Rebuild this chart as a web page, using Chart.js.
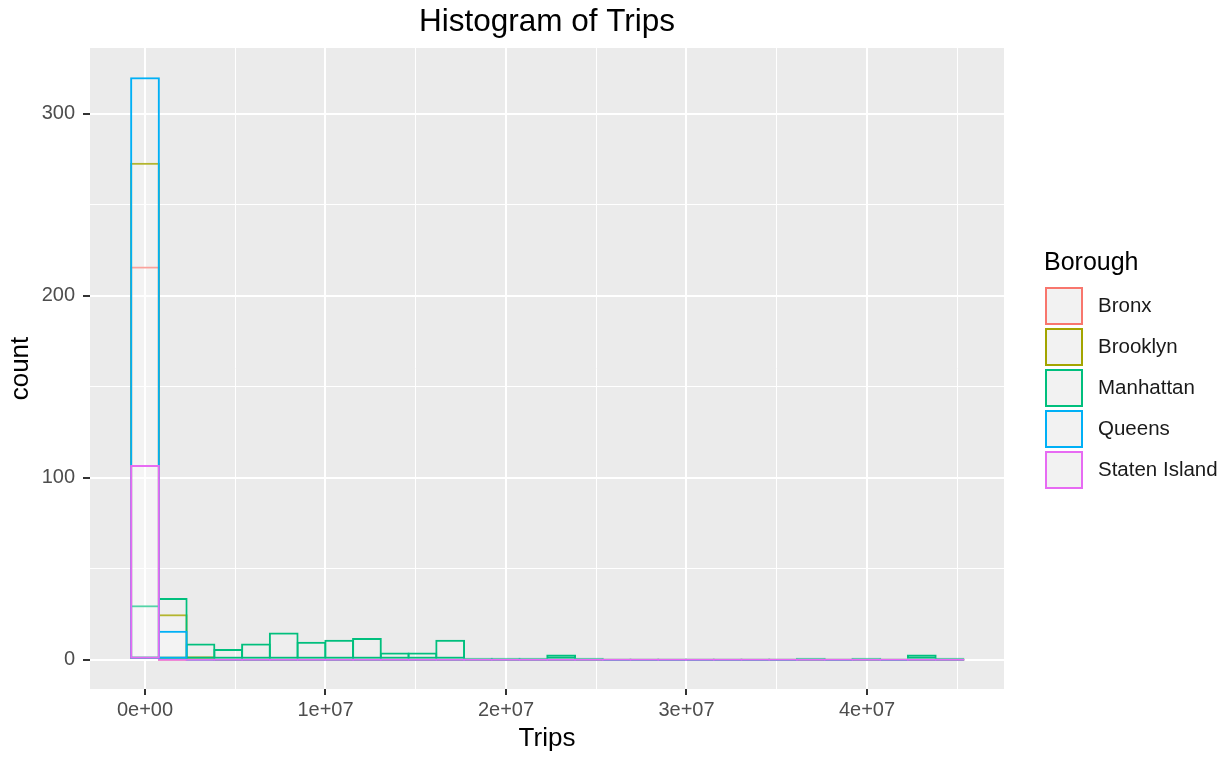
<!DOCTYPE html>
<html>
<head>
<meta charset="utf-8">
<title>Histogram of Trips</title>
<script src="https://cdn.jsdelivr.net/npm/chart.js@4.4.1/dist/chart.umd.min.js"></script>
<style>
  html, body { margin: 0; padding: 0; background: #ffffff; }
</style>
</head>
<body>
<canvas id="histogram" width="1229" height="759"></canvas>
<script>
// bin centres (30 bins, width ~1.537e6 trips)
const binMid = [0, 1537000, 3074000, 4611000, 6148000, 7685000, 9222000, 10759000, 12296000, 13833000,
    15370000, 16907000, 18444000, 19981000, 21518000, 23055000, 24592000, 26129000, 27666000, 29203000,
    30740000, 32277000, 33814000, 35351000, 36888000, 38425000, 39962000, 41499000, 43036000, 44573000];

const bronx        = [216, 0, 0, 0, 0, 0, 0, 0, 0, 0, 0, 0, 0, 0, 0, 0, 0, 0, 0, 0, 0, 0, 0, 0, 0, 0, 0, 0, 0, 0];
const brooklyn     = [273, 25, 2, 0, 0, 0, 0, 0, 0, 0, 0, 0, 0, 0, 0, 0, 0, 0, 0, 0, 0, 0, 0, 0, 0, 0, 0, 0, 0, 0];
const manhattan    = [30, 34, 9, 6, 9, 15, 10, 11, 12, 4, 4, 11, 1, 1, 1, 3, 1, 0, 0, 0, 0, 0, 0, 0, 1, 0, 1, 0, 3, 1];
const queens       = [320, 16, 0, 0, 0, 0, 0, 0, 0, 0, 0, 0, 0, 0, 0, 0, 0, 0, 0, 0, 0, 0, 0, 0, 0, 0, 0, 0, 0, 0];
const statenIsland = [107, 0, 0, 0, 0, 0, 0, 0, 0, 0, 0, 0, 0, 0, 0, 0, 0, 0, 0, 0, 0, 0, 0, 0, 0, 0, 0, 0, 0, 0];

const boroughs = ["Bronx", "Brooklyn", "Manhattan", "Queens", "Staten Island"];
const boroughColors = ["#F8766D", "#A3A500", "#00BF7D", "#00B0F6", "#E76BF3"];

const xTicks = [0, 10000000, 20000000, 30000000, 40000000];
const xTickLabels = ["0e+00", "1e+07", "2e+07", "3e+07", "4e+07"];
const xMinor = [5000000, 15000000, 25000000, 35000000, 45000000];
const yTicks = [0, 100, 200, 300];
const yTickLabels = ["0", "100", "200", "300"];
const yMinor = [50, 150, 250];

const fontFamily = "'Liberation Sans', Arial, Helvetica, sans-serif";

window.addEventListener("DOMContentLoaded", function() {
    const counts = [bronx, brooklyn, manhattan, queens, statenIsland];

    const datasets = boroughs.map(function(name, i) {
        return {
            label: name,
            data: binMid.map(function(x, k) { return { x: x, y: counts[i][k] }; }),
            borderColor: boroughColors[i],
            backgroundColor: "rgba(255,255,255,0.18)",
            borderWidth: 2,
            borderSkipped: false,
            minBarLength: 2,
            barPercentage: 1.072,
            categoryPercentage: 1,
            grouped: false,
            order: boroughs.length - i   // later boroughs drawn on top, like ggplot
        };
    });

    // grey panel behind the grid
    const panelPlugin = {
        id: "panel",
        beforeDraw(chart) {
            const ctx = chart.ctx, a = chart.chartArea;
            ctx.save();
            ctx.fillStyle = "#ffffff";
            ctx.fillRect(0, 0, chart.width, chart.height);
            ctx.fillStyle = "#EBEBEB";
            ctx.fillRect(a.left, a.top, a.right - a.left, a.bottom - a.top);
            ctx.restore();
        }
    };

    // ggplot-style legend on the right
    const legendPlugin = {
        id: "ggLegend",
        afterDraw(chart) {
            const ctx = chart.ctx;
            ctx.save();
            ctx.textBaseline = "middle";
            ctx.textAlign = "left";
            ctx.fillStyle = "#000000";
            ctx.font = "25px " + fontFamily;
            ctx.fillText("Borough", 1044, 263);
            ctx.font = "20.5px " + fontFamily;
            boroughs.forEach(function(name, i) {
                const top = 287 + i * 41;
                ctx.fillStyle = "#F2F2F2";
                ctx.fillRect(1045, top, 38, 38);
                ctx.strokeStyle = boroughColors[i];
                ctx.lineWidth = 2;
                ctx.strokeRect(1046, top + 1, 36, 36);
                ctx.fillStyle = "#1a1a1a";
                ctx.fillText(name, 1098, top + 19);
            });
            ctx.restore();
        }
    };

    function isMajor(list, c) { return !!(c && c.tick && list.indexOf(c.tick.value) >= 0); }

    new Chart(document.getElementById("histogram").getContext("2d"), {
        type: "bar",
        data: { datasets: datasets },
        plugins: [panelPlugin, legendPlugin],
        options: {
            responsive: false,
            animation: false,
            events: [],
            layout: { padding: { left: 0, right: 225, top: 0, bottom: 0 } },
            plugins: {
                legend: { display: false },
                tooltip: { enabled: false },
                title: {
                    display: true,
                    text: "Histogram of Trips",
                    color: "#000000",
                    fullSize: false,
                    font: { family: fontFamily, size: 31.5, weight: "normal" },
                    padding: { top: 3.2, bottom: 7 }
                }
            },
            scales: {
                x: {
                    type: "linear",
                    offset: false,
                    min: -3047000,
                    max: 47590000,
                    afterBuildTicks: function(scale) {
                        scale.ticks = xTicks.concat(xMinor).sort(function(a, b) { return a - b; }).map(function(v) { return { value: v }; });
                    },
                    afterFit: function(scale) { scale.height = 70; },
                    border: { display: false },
                    grid: {
                        offset: false,
                        color: "#ffffff",
                        lineWidth: function(c) { return isMajor(xTicks, c) ? 2 : 1; },
                        tickColor: function(c) { return isMajor(xTicks, c) ? "#333333" : "rgba(0,0,0,0)"; },
                        tickWidth: 2,
                        tickLength: 6
                    },
                    ticks: {
                        autoSkip: false,
                        maxRotation: 0,
                        padding: 3,
                        color: "#4D4D4D",
                        font: { family: fontFamily, size: 20 },
                        callback: function(value) {
                            const i = xTicks.indexOf(value);
                            return i >= 0 ? xTickLabels[i] : "";
                        }
                    },
                    title: {
                        display: true,
                        text: "Trips",
                        color: "#000000",
                        font: { family: fontFamily, size: 26 },
                        padding: { top: 0, bottom: 5 }
                    }
                },
                y: {
                    min: -16,
                    max: 336,
                    afterBuildTicks: function(scale) {
                        scale.ticks = yTicks.concat(yMinor).sort(function(a, b) { return a - b; }).map(function(v) { return { value: v }; });
                    },
                    afterFit: function(scale) { scale.width = 90; },
                    border: { display: false },
                    grid: {
                        color: "#ffffff",
                        lineWidth: function(c) { return isMajor(yTicks, c) ? 2 : 1; },
                        tickColor: function(c) { return isMajor(yTicks, c) ? "#333333" : "rgba(0,0,0,0)"; },
                        tickWidth: 2,
                        tickLength: 7
                    },
                    ticks: {
                        autoSkip: false,
                        padding: 8,
                        color: "#4D4D4D",
                        font: { family: fontFamily, size: 20 },
                        callback: function(value) {
                            const i = yTicks.indexOf(value);
                            return i >= 0 ? yTickLabels[i] : "";
                        }
                    },
                    title: {
                        display: true,
                        text: "count",
                        color: "#000000",
                        font: { family: fontFamily, size: 26 },
                        padding: { top: 5.4, bottom: 0 }
                    }
                }
            }
        }
    });
});
</script>
</body>
</html>
